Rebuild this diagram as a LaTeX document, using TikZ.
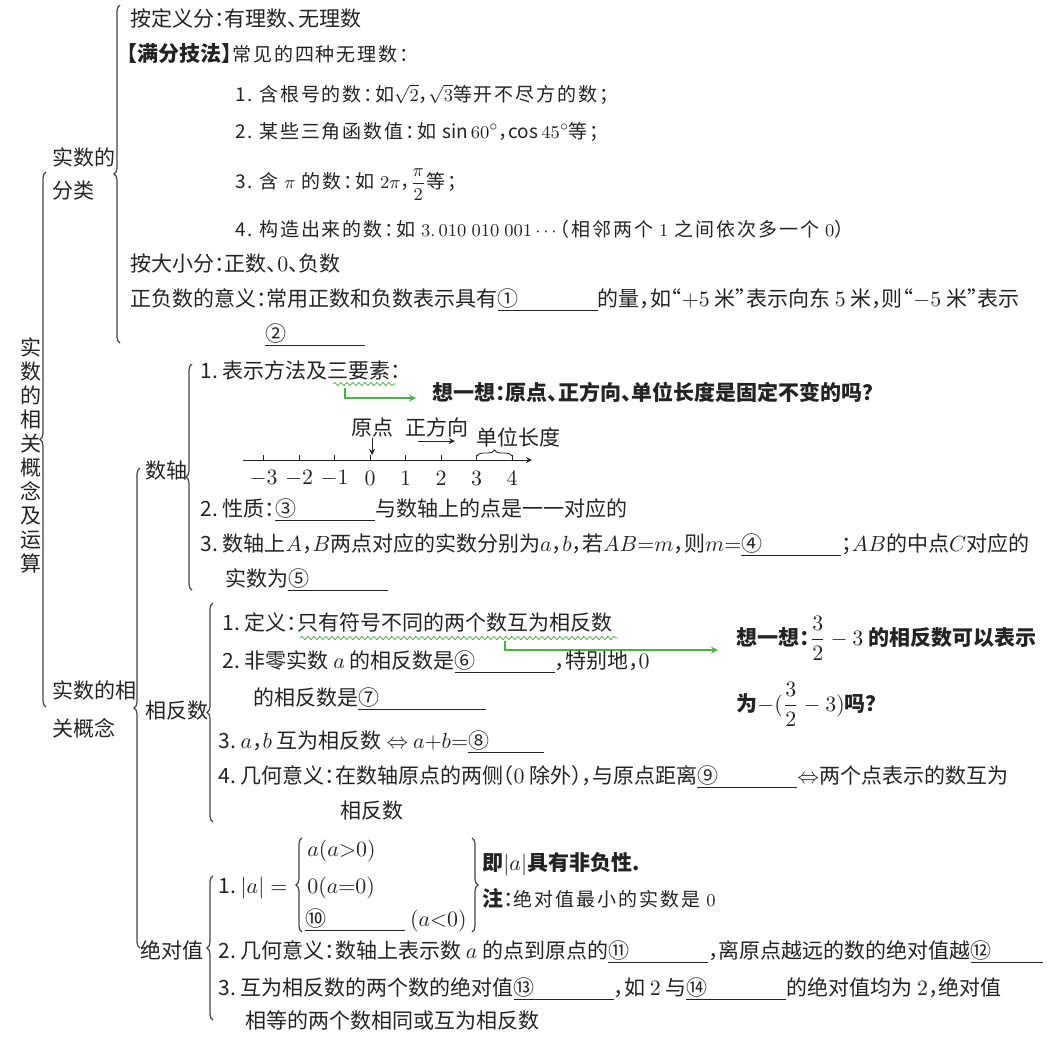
\documentclass[tikz,border=0pt]{standalone}
\usepackage{fontspec}
\usepackage{amsmath}
\setmainfont{Noto Sans CJK SC}[RawFeature=+halt]
\newfontfamily\spaced{Noto Sans CJK SC}[RawFeature=+halt, LetterSpace=10]
\usetikzlibrary{arrows,decorations.pathreplacing,decorations.pathmorphing}

\definecolor{tipgreen}{RGB}{76,178,72}
\definecolor{ink}{RGB}{35,35,35}
\newcommand{\blank}[2][50pt]{\underline{\makebox[#1][l]{#2}}}
\newcommand{\sm}{\fontsize{9.5}{12}\spaced}

\tikzset{
  txt/.style={anchor=base west, inner sep=0pt, text=ink, font=\fontsize{10.5}{12}\selectfont},
  boldtxt/.style={txt, font=\fontsize{10.5}{12}\selectfont\bfseries},
  lbrace/.style={decorate, decoration={brace, amplitude=3pt, aspect=0.5}, draw=ink!85, semithick},
  wave/.style={decorate, decoration={snake, amplitude=0.8pt, segment length=3pt}, draw=tipgreen},
  hint/.style={->, >=stealth, draw=tipgreen, semithick}
}

\begin{document}
\begin{tikzpicture}[x=0.5pt, y=-0.5pt]
\useasboundingbox (0,0) rectangle (1050,1039);

% left labels
\node[txt, anchor=center, align=center] (title) at (31,455) {实\\数\\的\\相\\关\\概\\念\\及\\运\\算};
\node[txt] (cls1) at (52,165) {实数的};
\node[txt] (cls2) at (52,198) {分类};
\node[txt] (rel1) at (52,698) {实数的相};
\node[txt] (rel2) at (52,736) {关概念};
\node[txt] (axis) at (145,478) {数轴};
\node[txt] (opp) at (145,718) {相反数};
\node[txt] (abs) at (140,958) {绝对值};

% braces
\draw[lbrace] (46,707) -- (46,172);
\draw[lbrace] (120,343) -- (120,5);
\draw[lbrace] (140,948) -- (140,468);
\draw[lbrace] (192,590) -- (192,364);
\draw[lbrace] (213,822) -- (213,603);
\draw[lbrace] (213,1020) -- (213,876);

% classification
\node[txt] (bydef) at (130,26) {按定义分：有理数、无理数};
\node[txt] (skill) at (127,61) {\textbf{【满分技法】}{\sm 常见的四种无理数：}};
\node[txt] (irr1) at (235,101) {\sm 1.\ 含根号的数：如$\sqrt{2}$，$\sqrt{3}$等开不尽方的数；};
\node[txt] (irr2) at (235,138) {\sm 2.\ 某些三角函数值：如 $\sin 60^\circ$，$\cos 45^\circ$等；};
\node[txt] (irr3) at (235,188) {\sm 3.\ 含 $\pi$ 的数：如 $2\pi$，$\dfrac{\pi}{2}$等；};
\node[txt] (irr4) at (235,236) {\sm 4.\ 构造出来的数：如 $3.\,010\;010\;001\cdots$（相邻两个 $1$ 之间依次多一个 $0$）};
\node[txt] (bysize) at (130,271) {按大小分：正数、$0$、负数};
\node[txt] (sign) at (130,306) {正负数的意义：常用正数和负数表示具有\blank{①}的量，如“$+5$ 米”表示向东 $5$ 米，则“$-5$ 米”表示};
\node[txt] (sign2) at (265,341) {\blank{②}};

% number axis
\node[txt] (ax1) at (200,378) {1.\ 表示方法及三要素：};
\draw[wave] (333,384) -- (396,384);
\coordinate (hook1) at (345,388);
\coordinate (tip1) at (416,398);
\node[boldtxt] (think1) at (432,400) {想一想：原点、正方向、单位长度是固定不变的吗？};
\draw[hint] (hook1) |- (tip1);

\draw[->, >=stealth, ink] (243,460) -- (532,460);
\foreach \n in {-3,...,4} {
  \draw[ink] (370+35.5*\n,460) -- ++(0,-5);
  \node[txt, anchor=center] at (370+35.5*\n,478) {$\n$};
}
\node[txt, anchor=center] (origin) at (372,428) {原点};
\draw[->, >=stealth, ink] (origin.south) -- (372,455);
\node[txt, anchor=center] (posdir) at (437,427) {正方向};
\draw[->, >=stealth, ink] (418,441) -- (455,441);
\node[txt, anchor=center] (unitlen) at (518,437) {单位长度};
\draw[ink, decorate, decoration={brace, amplitude=3pt}] (477,456) -- (512,456);

\node[txt] (ax2) at (200,516) {2.\ 性质：\blank{③}与数轴上的点是一一对应的};
\node[txt] (ax3) at (200,551) {3.\ 数轴上$A$，$B$两点对应的实数分别为$a$，$b$，若$AB{=}m$，则$m{=}$\blank{④}；$AB$的中点$C$对应的};
\node[txt] (ax3b) at (225,586) {实数为\blank{⑤}};

% opposite numbers
\node[txt] (op1) at (222,630) {1.\ 定义：只有符号不同的两个数互为相反数};
\draw[wave] (300,638) -- (618,638);
\coordinate (hook2) at (505,641);
\coordinate (tip2) at (718,650);
\draw[hint] (hook2) |- (tip2);
\node[boldtxt] (think2) at (736,645) {想一想：$\dfrac{3}{2}-3$ 的相反数可以表示};
\node[boldtxt] (think2b) at (736,711) {为$-(\dfrac{3}{2}-3)$吗？};
\node[txt] (op2) at (222,668) {2.\ 非零实数 $a$ 的相反数是\blank{⑥}，特别地，$0$};
\node[txt] (op2b) at (253,705) {的相反数是\blank[64pt]{⑦}};
\node[txt] (op3) at (218,748) {3.\ $a$，$b$ 互为相反数 $\Leftrightarrow$ $a{+}b{=}$\blank[38pt]{⑧}};
\node[txt] (op4) at (218,783) {4.\ 几何意义：在数轴原点的两侧（$0$ 除外），与原点距离\blank{⑨}$\Leftrightarrow$两个点表示的数互为};
\node[txt] (op4b) at (340,818) {相反数};

% absolute value
\node[txt] (ab1) at (218,893) {1.\ $|a|=$};
\draw[lbrace] (302,932) -- (302,838);
\node[txt] (case1) at (307,856) {$a(a{>}0)$};
\node[txt] (case2) at (307,893) {$0(a{=}0)$};
\node[txt] (case3) at (305,926) {\blank{⑩}\ $(a{<}0)$};
\draw[lbrace] (472,838) -- (472,932);
\node[boldtxt] (nonneg) at (482,870) {即$|a|$具有非负性.};
\node[txt] (note) at (482,906) {\textbf{注}：{\sm 绝对值最小的实数是 $0$}};
\node[txt] (ab2) at (218,958) {2.\ 几何意义：数轴上表示数 $a$ 的点到原点的\blank{⑪}，离原点越远的数的绝对值越\blank[36pt]{⑫}};
\node[txt] (ab3) at (218,995) {3.\ 互为相反数的两个数的绝对值\blank{⑬}，如 $2$ 与\blank{⑭}的绝对值均为 $2$，绝对值};
\node[txt] (ab3b) at (245,1028) {相等的两个数相同或互为相反数};
\end{tikzpicture}
\end{document}
